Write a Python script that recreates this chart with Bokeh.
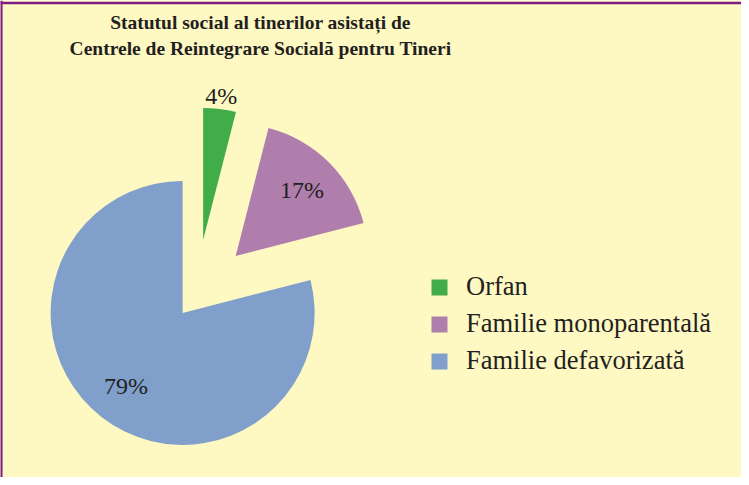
import numpy as np
from bokeh.plotting import figure
from bokeh.models import Range1d, Legend, LegendItem, Label, Span, ColumnDataSource
from bokeh.core.properties import value
from bokeh.embed import file_html
from bokeh.resources import INLINE

# ---- data ----
title_lines = ["Statutul social al tinerilor asistați de",
               "Centrele de Reintegrare Socială pentru Tineri"]
categories = ["Orfan", "Familie monoparentală", "Familie defavorizată"]
values = [4, 17, 79]
pct_labels = ["4%", "17%", "79%"]
colors = ["#41AD49", "#B07EAD", "#809FCA"]

# ---- layout constants ----
W, H = 741, 477
BG = "#FEF8C3"
BORDER = "#7D1E80"
TXT = "#231F20"
cx, cy = 195.6, 182.0          # common pie centre (px-like data units)
R = 132
explode = [56, 56, 22]
label_factor = [1.1, 0.71, 0.70]

vals = np.array(values, dtype=float)
ang = vals / vals.sum() * 2 * np.pi
cum = np.concatenate([[0], np.cumsum(ang)[:-1]])
end = np.pi / 2 - cum
start = end - ang
mid = (start + end) / 2
ex = np.array(explode, dtype=float)
x = cx + ex * np.cos(mid)
y = cy + ex * np.sin(mid)
lr = ex + np.array(label_factor) * R
lx = cx + lr * np.cos(mid)
ly = cy + lr * np.sin(mid)

src = ColumnDataSource(dict(x=x, y=y, start=start, end=end, color=colors,
                            cat=categories))
lsrc = ColumnDataSource(dict(x=lx, y=ly, text=pct_labels))

p = figure(width=W, height=H, output_backend="svg", toolbar_location=None,
           x_range=Range1d(0, W), y_range=Range1d(0, H),
           x_axis_location=None, y_axis_location=None, min_border=0,
           background_fill_color=BG, border_fill_color=BG)
p.outline_line_color = None
p.grid.visible = False

r = p.wedge(x="x", y="y", radius=R, start_angle="start", end_angle="end",
            fill_color="color", line_color=None, source=src)

p.text(x="x", y="y", text="text", source=lsrc, text_align="center",
       text_baseline="middle", text_font=value("Liberation Serif"),
       text_font_size="24px", text_color=TXT)

for i, (line, yy) in enumerate(zip(title_lines, [H - 22, H - 48])):
    p.add_layout(Label(x=260, y=yy, text=line, text_align="center",
                       text_baseline="alphabetic", text_font="Liberation Serif",
                       text_font_style="bold", text_font_size="19.5px",
                       text_color=TXT))

legend = Legend(items=[LegendItem(label=c, renderers=[r], index=i)
                       for i, c in enumerate(categories)],
                location=(429, 101), padding=0, margin=0, spacing=6,
                label_standoff=17, glyph_width=20, glyph_height=20,
                label_height=20, border_line_alpha=0, background_fill_alpha=0,
                label_text_font="Liberation Serif", label_text_font_size="26.5px",
                label_text_color=TXT)
p.add_layout(legend)

p.add_layout(Span(location=H - 2.5, dimension="width", line_color=BORDER,
                  line_width=2.5))
p.add_layout(Span(location=0.8, dimension="height", line_color=BORDER,
                  line_width=2.5))

open("out.html", "w").write(file_html(p, INLINE))
